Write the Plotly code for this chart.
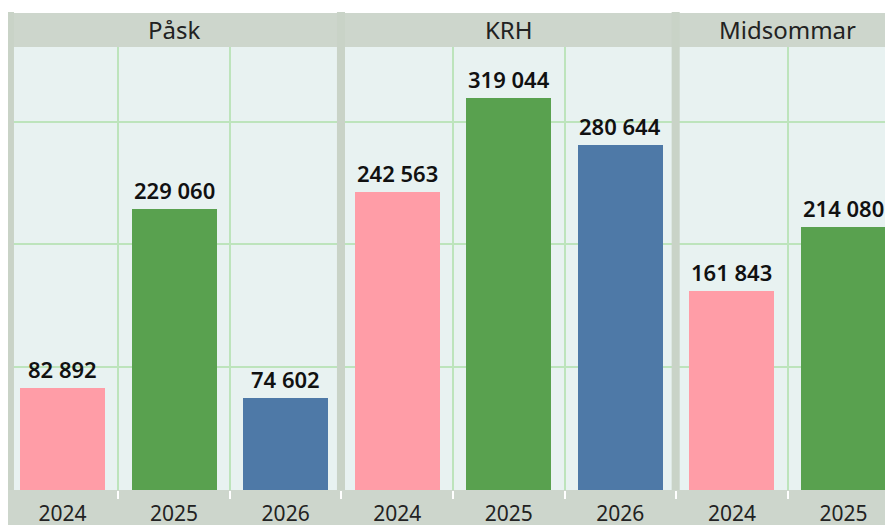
import plotly.graph_objects as go

# ---- data ----
groups = ["Påsk", "Påsk", "Påsk", "KRH", "KRH", "KRH", "Midsommar", "Midsommar"]
years = ["2024", "2025", "2026", "2024", "2025", "2026", "2024", "2025"]
values = [82892, 229060, 74602, 242563, 319044, 280644, 161843, 214080]
panel_names = ["Påsk", "KRH", "Midsommar"]
year_colors = {"2024": "#FF9DA7", "2025": "#59A14F", "2026": "#4E79A7"}
y_grid = [100000, 200000, 300000]

HEADER = "#CDD6CC"
STRIP = "#C9D3C7"
PLOTBG = "#E8F2F1"
GRID = "#BDE4BC"

xpos = list(range(len(values)))
fmt = [f"{v:,}".replace(",", " ") for v in values]

fig = go.Figure()
fig.add_trace(go.Bar(
    x=xpos, y=values, width=0.762,
    marker=dict(color=[year_colors[y] for y in years], line=dict(width=0)),
    hoverinfo="skip",
))

# value labels
for x, v, t in zip(xpos, values, fmt):
    fig.add_annotation(x=x, y=v, text=t, showarrow=False, yanchor="bottom",
                       yshift=2, font=dict(family="Noto Sans", size=22,
                                           color="#111111", weight=600))

H = 443.0  # plot height in px
# header band and bottom band
fig.add_shape(type="rect", xref="paper", yref="paper", x0=0, x1=1.01,
              y0=1, y1=1 + 34 / H, fillcolor=HEADER, line_width=0, layer="below")
fig.add_shape(type="rect", xref="paper", yref="paper", x0=0, x1=1.01,
              y0=-45 / H, y1=0, fillcolor=HEADER, line_width=0, layer="below")

# panel separators & titles
starts = []
for i, g in enumerate(groups):
    if i == 0 or groups[i - 1] != g:
        starts.append(i)
for k, s in enumerate(starts):
    if k == 0:
        x0, x1 = s - 0.5, s - 0.435
    else:
        x0, x1 = s - 0.54, s - 0.468
    fig.add_shape(type="rect", xref="x", yref="paper", x0=x0, x1=x1,
                  y0=0, y1=1 + 35 / H, fillcolor=STRIP, line_width=0, layer="above")
centers = [1, 4, 6.5]
for name, c in zip(panel_names, centers):
    fig.add_annotation(x=c, xref="x", y=1 + 17 / H, yref="paper", text=name,
                       showarrow=False, yanchor="middle",
                       font=dict(family="Noto Sans", size=24, color="#222222"))

minor_vals = [i + 0.5 for i in range(len(values))]

fig.update_xaxes(
    range=[-0.4885, 7.5155], tickmode="array", tickvals=xpos, ticktext=years,
    ticks="", showgrid=False, zeroline=False, showline=False,
    tickfont=dict(family="Noto Sans", size=21, color="#222222"),
    ticklabelstandoff=9,
    minor=dict(tickmode="array", tickvals=minor_vals, showgrid=True,
               gridcolor=GRID, gridwidth=1.5, ticks="outside", ticklen=8,
               tickcolor="white", tickwidth=1.5),
)
fig.update_yaxes(
    range=[0, 360800], tickmode="array", tickvals=y_grid, showticklabels=False,
    showgrid=True, gridcolor=GRID, gridwidth=1.5, zeroline=False, showline=False,
)
fig.update_layout(
    width=893, height=525, margin=dict(l=0, r=0, t=39, b=43),
    paper_bgcolor="white", plot_bgcolor=PLOTBG, showlegend=False,
    bargap=0,
)
fig.write_html("out.html")
